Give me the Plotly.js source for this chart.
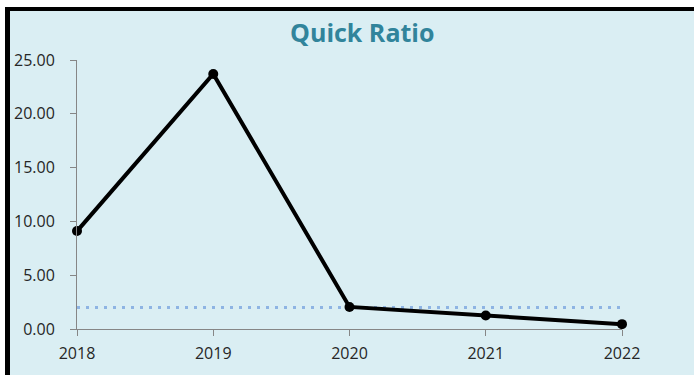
<!DOCTYPE html>
<html>
<head>
<meta charset="utf-8">
<script src="https://cdn.plot.ly/plotly-3.0.1.min.js"></script>
<style>
  html, body { margin: 0; padding: 0; background: #ffffff; width: 694px; height: 375px; overflow: hidden; }
  #frame { position: absolute; left: 5px; top: 7px; width: 689px; height: 368px;
           border-left: 5px solid #000; border-top: 4px solid #000; box-sizing: border-box; background: #DAEEF3; }
  #chart { position: absolute; left: 10px; top: 11px; width: 684px; height: 364px; }
</style>
</head>
<body>
<div id="frame"></div>
<div id="chart"></div>
<script>
const years = ["2018", "2019", "2020", "2021", "2022"];
const quickRatio = [9.1, 23.7, 2.05, 1.25, 0.45];
const benchmark = [2.0, 2.0, 2.0, 2.0, 2.0];
const yTickVals = [0, 5, 10, 15, 20, 25];
const yTickText = ["0.00", "5.00", "10.00", "15.00", "20.00", "25.00"];

const traces = [
  {
    x: years, y: benchmark, type: "scatter", mode: "lines",
    line: { color: "#8EB4E3", width: 3, dash: "3px,6px" },
    hoverinfo: "skip", cliponaxis: false
  },
  {
    x: years, y: quickRatio, type: "scatter", mode: "lines+markers",
    line: { color: "#000000", width: 4 },
    marker: { color: "#000000", size: 10 },
    cliponaxis: false
  }
];

const layout = {
  width: 684, height: 364,
  margin: { l: 67, r: 72, t: 49, b: 46 },
  paper_bgcolor: "#DAEEF3",
  plot_bgcolor: "#DAEEF3",
  showlegend: false,
  title: {
    text: "Quick Ratio",
    x: 0.515, xanchor: "center", y: 0.94, yanchor: "middle",
    font: { family: "Open Sans", size: 25, color: "#31849B", weight: "bold" }
  },
  xaxis: {
    type: "category", range: [0, 4],
    showgrid: false, zeroline: false,
    showline: true, linecolor: "#868686", linewidth: 1,
    ticks: "outside", ticklen: 6, tickcolor: "#868686",
    tickfont: { family: "Open Sans", size: 16, color: "#262626" },
    ticklabelstandoff: 4
  },
  yaxis: {
    range: [0, 25],
    tickvals: yTickVals, ticktext: yTickText,
    showgrid: false, zeroline: false,
    showline: true, linecolor: "#868686", linewidth: 1,
    ticks: "outside", ticklen: 6, tickcolor: "#868686",
    tickfont: { family: "Open Sans", size: 16, color: "#262626" },
    ticklabelstandoff: 12
  }
};

Plotly.newPlot("chart", traces, layout, { displayModeBar: false, staticPlot: true });
</script>
</body>
</html>
